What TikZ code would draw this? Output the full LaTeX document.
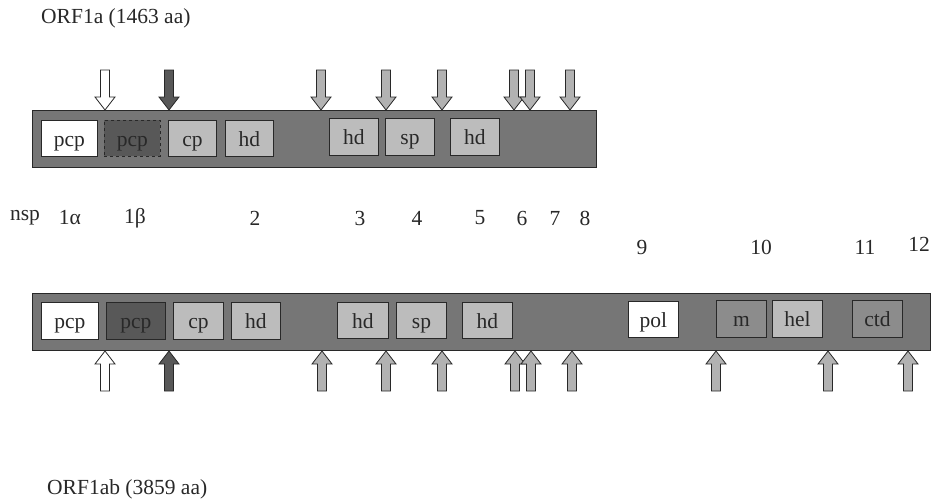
\documentclass[tikz,border=0pt]{standalone}
\usepackage{fontspec}
\setmainfont{Liberation Serif}
\definecolor{barc}{RGB}{118,118,118}
\definecolor{darkc}{RGB}{88,88,88}
\definecolor{lightc}{RGB}{188,188,188}
\definecolor{midc}{RGB}{140,140,140}
\definecolor{arrc}{RGB}{178,178,178}
\definecolor{inkc}{RGB}{40,40,40}
\tikzset{
  x=1pt, y=-1pt,
  every node/.style={font=\fontsize{21.5}{25}\selectfont, text=inkc},
  bar/.style={draw=inkc, line width=0.9pt, fill=barc},
  dom/.style={draw=inkc, line width=0.9pt, inner sep=0pt, text height=18pt, text depth=2pt},
  dwhite/.style={dom, fill=white},
  ddark/.style={dom, fill=darkc},
  dlight/.style={dom, fill=lightc},
  dmid/.style={dom, fill=midc},
  lbl/.style={inner sep=0pt, anchor=center},
  darr/.pic={\draw[pic actions, line width=0.8pt, draw=inkc] (-4.5,0) -- (4.5,0) -- (4.5,27) -- (10,27) -- (0,40) -- (-10,27) -- (-4.5,27) -- cycle;},
  uarr/.pic={\draw[pic actions, line width=0.8pt, draw=inkc] (0,0) -- (10,13) -- (4.5,13) -- (4.5,40) -- (-4.5,40) -- (-4.5,13) -- (-10,13) -- cycle;},
}
\begin{document}
\begin{tikzpicture}
\useasboundingbox (0,0) rectangle (933,503);
% titles
\node[lbl, anchor=west] (orf1a) at (41,18) {ORF1a (1463 aa)};
\node[lbl, anchor=west] (orf1ab) at (47,489) {ORF1ab (3859 aa)};
% top bar
\path[bar] (32,110) rectangle (596,167);
\node[dwhite, minimum width=56pt, minimum height=36pt, anchor=north west] (t1) at (41,120) {pcp};
\node[ddark, dashed, minimum width=56pt, minimum height=36pt, anchor=north west] (t2) at (104,120) {pcp};
\node[dlight, minimum width=48pt, minimum height=36pt, anchor=north west] (t3) at (168,120) {cp};
\node[dlight, minimum width=48pt, minimum height=36pt, anchor=north west] (t4) at (225,120) {hd};
\node[dlight, minimum width=49pt, minimum height=37pt, anchor=north west] (t5) at (329,118) {hd};
\node[dlight, minimum width=49pt, minimum height=37pt, anchor=north west] (t6) at (385,118) {sp};
\node[dlight, minimum width=49pt, minimum height=37pt, anchor=north west] (t7) at (450,118) {hd};
% top arrows
\pic[fill=white] at (105,70) {darr};
\pic[fill=darkc] at (169,70) {darr};
\foreach \xx in {321,386,442,514,530,570} {\pic[fill=arrc] at (\xx,70) {darr};}
% nsp labels
\node[lbl] (nsp) at (25,218) {nsp};
\node[lbl] (n1a) at (70,218) {1α};
\node[lbl] (n1b) at (135,218) {1β};
\node[lbl] (n2) at (255,218) {2};
\node[lbl] (n3) at (360,218) {3};
\node[lbl] (n4) at (417,218) {4};
\node[lbl] (n5) at (480,218) {5};
\node[lbl] (n6) at (522,218) {6};
\node[lbl] (n7) at (555,218) {7};
\node[lbl] (n8) at (585,218) {8};
\node[lbl] (n9) at (642,247) {9};
\node[lbl] (n10) at (761,247) {10};
\node[lbl] (n11) at (865,247) {11};
\node[lbl] (n12) at (919,244) {12};
% bottom bar
\path[bar] (32,293) rectangle (930,350);
\node[dwhite, minimum width=57pt, minimum height=37pt, anchor=north west] (b1) at (41,302) {pcp};
\node[ddark, minimum width=59pt, minimum height=37pt, anchor=north west] (b2) at (106,302) {pcp};
\node[dlight, minimum width=50pt, minimum height=37pt, anchor=north west] (b3) at (173,302) {cp};
\node[dlight, minimum width=49pt, minimum height=37pt, anchor=north west] (b4) at (231,302) {hd};
\node[dlight, minimum width=51pt, minimum height=36pt, anchor=north west] (b5) at (337,302) {hd};
\node[dlight, minimum width=50pt, minimum height=36pt, anchor=north west] (b6) at (396,302) {sp};
\node[dlight, minimum width=50pt, minimum height=36pt, anchor=north west] (b7) at (462,302) {hd};
\node[dwhite, minimum width=50pt, minimum height=36pt, anchor=north west] (b8) at (628,301) {pol};
\node[dmid, minimum width=50pt, minimum height=37pt, anchor=north west] (b9) at (716,300) {m};
\node[dlight, minimum width=50pt, minimum height=37pt, anchor=north west] (b10) at (772,300) {hel};
\node[dmid, minimum width=50pt, minimum height=37pt, anchor=north west] (b11) at (852,300) {ctd};
% bottom arrows
\pic[fill=white] at (105,351) {uarr};
\pic[fill=darkc] at (169,351) {uarr};
\foreach \xx in {322,386,442,515,531,572,716,828,908} {\pic[fill=arrc] at (\xx,351) {uarr};}
\end{tikzpicture}
\end{document}
